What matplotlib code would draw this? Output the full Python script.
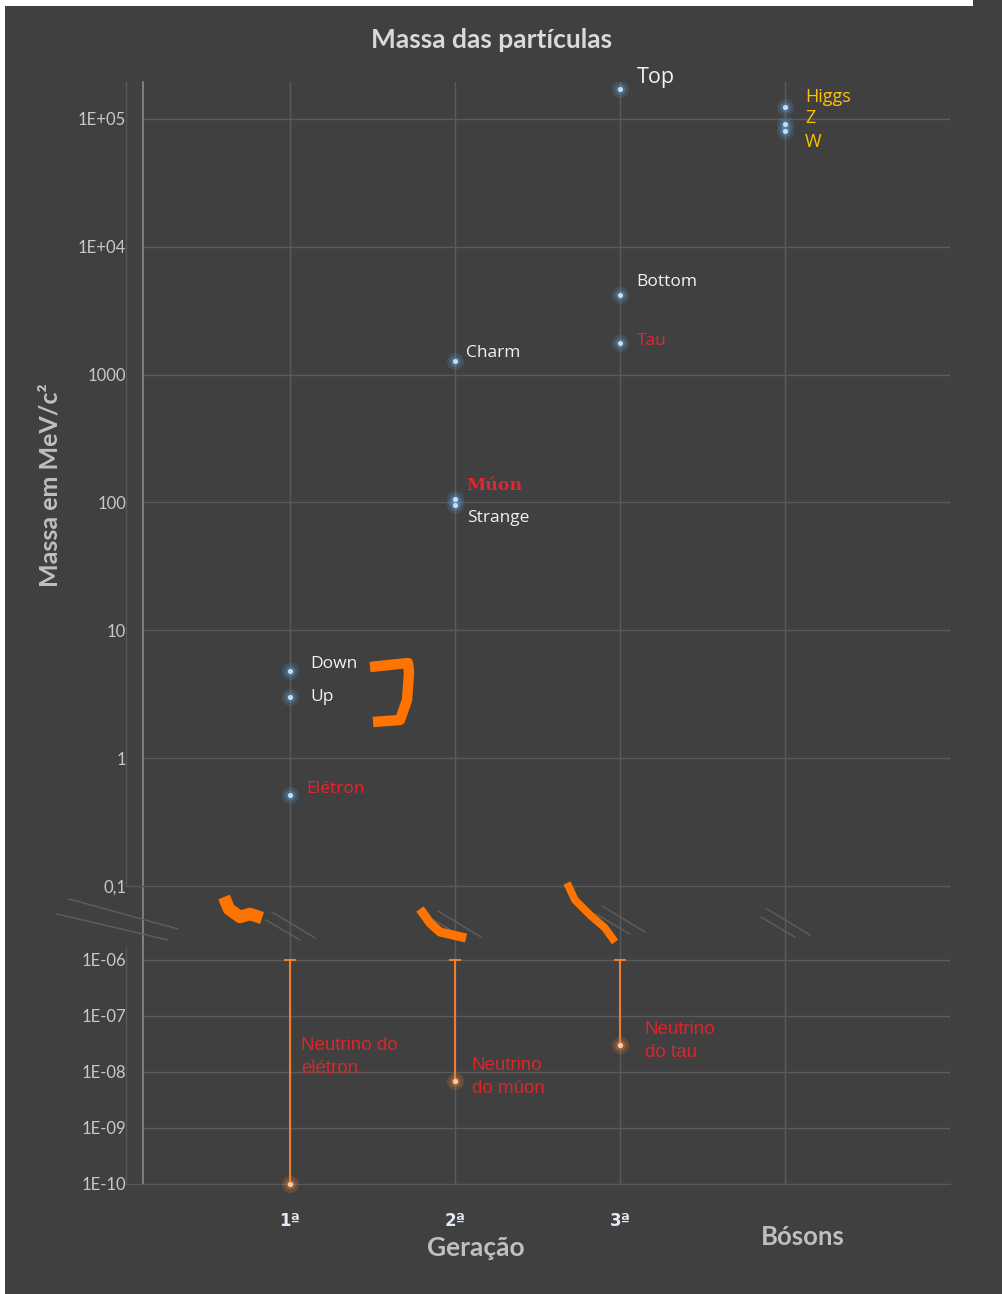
import matplotlib
matplotlib.use("Agg")
import matplotlib.pyplot as plt
from matplotlib.patches import Rectangle
from matplotlib.ticker import FixedLocator, FixedFormatter, NullLocator
import matplotlib.transforms as mtransforms

# ---------------------------------------------------------------------------
# Dados
# ---------------------------------------------------------------------------
categorias = ["1ª", "2ª", "3ª", "Bósons"]
posicoes = [1, 2, 3, 4]

nomes = ["Up", "Down", "Elétron", "Charm", "Strange", "Múon",
         "Top", "Bottom", "Tau", "Higgs", "Z", "W"]
geracao = [1, 1, 1, 2, 2, 2, 3, 3, 3, 4, 4, 4]
massas = [3.0, 4.8, 0.511, 1270, 95, 105.7,
          173000, 4180, 1777, 125000, 91200, 80400]
tipo = ["quark", "quark", "lepton", "quark", "quark", "lepton",
        "quark", "quark", "lepton", "boson", "boson", "boson"]

nomes_nu = ["Neutrino do\nelétron", "Neutrino\ndo múon", "Neutrino\ndo tau"]
geracao_nu = [1, 2, 3]
massas_nu = [1e-10, 7e-9, 3e-8]
limite_nu = [1e-6, 1e-6, 1e-6]

ticks_sup = [1e5, 1e4, 1e3, 1e2, 1e1, 1, 0.1]
rotulos_sup = ["1E+05", "1E+04", "1000", "100", "10", "1", "0,1"]
ticks_inf = [1e-6, 1e-7, 1e-8, 1e-9, 1e-10]
rotulos_inf = ["1E-06", "1E-07", "1E-08", "1E-09", "1E-10"]

# ---------------------------------------------------------------------------
# Estilo
# ---------------------------------------------------------------------------
FUNDO = "#404040"
GRADE = "#5a5a5a"
TXT_EIXO = "#c8c8c8"
CORES = {"quark": "#f2f2f2", "lepton": "#e3262e", "boson": "#ffc000"}
W, H = 1003, 1294

fig = plt.figure(figsize=(W / 100, H / 100), dpi=100)
fig.patch.set_facecolor(FUNDO)


def fx(px):
    return px / W


def fy(py):
    return 1 - py / H


x0, x1 = 143, 950
ax = fig.add_axes([fx(x0), fy(940), fx(x1) - fx(x0), fy(82) - fy(940)])
axb = fig.add_axes([fx(x0), fy(1184), fx(x1) - fx(x0), fy(940) - fy(1184)])

for a in (ax, axb):
    a.set_facecolor(FUNDO)
    a.set_yscale("log")
    a.set_xlim(0.11, 5)
    a.set_xticks([1, 2, 3, 4, 5])
    a.grid(True, color=GRADE, lw=1)
    a.set_axisbelow(True)
    for s in ("top", "right", "bottom"):
        a.spines[s].set_visible(False)
    a.spines["left"].set_color("#8a8a8a")
    a.spines["left"].set_linewidth(1.2)
    a.tick_params(axis="both", length=0, colors=TXT_EIXO, labelsize=12,
                  pad=12)
    a.yaxis.set_minor_locator(NullLocator())

ax.set_ylim(10 ** -1.422, 10 ** 5.289)
ax.yaxis.set_major_locator(FixedLocator(ticks_sup))
ax.yaxis.set_major_formatter(FixedFormatter(rotulos_sup))
ax.set_xticklabels([])

axb.set_ylim(1e-10, 10 ** -5.643)
axb.yaxis.set_major_locator(FixedLocator(ticks_inf))
axb.yaxis.set_major_formatter(FixedFormatter(rotulos_inf))
axb.spines["bottom"].set_visible(True)
axb.spines["bottom"].set_color(GRADE)
axb.set_xticks([1, 2, 3, 4, 5])
axb.set_xticklabels(categorias[:3] + ["", ""], fontsize=12, color="#e2ebf5",
                    fontweight="bold")
axb.tick_params(axis="x", pad=20)

for lab in ax.get_yticklabels() + axb.get_yticklabels():
    lab.set_family("Lato")

# pontos (com brilho)
ax.scatter(geracao, massas, s=150, color="#5b9bd5", alpha=0.18, lw=0, zorder=3)
ax.scatter(geracao, massas, s=55, color="#5b9bd5", alpha=0.35, lw=0, zorder=3)
ax.scatter(geracao, massas, s=14, color="#c5dcf2", lw=0, zorder=4)

# neutrinos: limite superior
axb.vlines(geracao_nu, massas_nu, limite_nu, color="#ed7d31", lw=1.5, zorder=3)
axb.scatter(geracao_nu, limite_nu, marker="_", s=80, color="#ed7d31",
            lw=1.5, zorder=3, clip_on=False)
axb.scatter(geracao_nu, massas_nu, s=150, color="#ed7d31", alpha=0.2, lw=0,
            zorder=4, clip_on=False)
axb.scatter(geracao_nu, massas_nu, s=55, color="#ed7d31", alpha=0.35, lw=0,
            zorder=4, clip_on=False)
axb.scatter(geracao_nu, massas_nu, s=15, color="#f8cbad", lw=0, zorder=5,
            clip_on=False)

# rótulos
desloc = {"Up": (20, 0), "Down": (20, 7), "Elétron": (16, 6),
          "Charm": (11, 8), "Strange": (12, -13), "Múon": (11, 14),
          "Top": (17, 11), "Bottom": (16, 13), "Tau": (17, 2),
          "Higgs": (20, 10), "Z": (20, 6), "W": (20, -11)}
for n, g, m, t in zip(nomes, geracao, massas, tipo):
    kw = dict(family="Open Sans", fontsize=12.5)
    if n == "Múon":
        kw = dict(family="DejaVu Serif", fontsize=12.5, fontweight="bold")
    elif n == "Top":
        kw["fontsize"] = 15.5
    elif t == "boson":
        kw["fontsize"] = 13
    ax.annotate(n, (g, m), xytext=desloc[n], textcoords="offset pixels",
                ha="left", va="center", color=CORES[t], **kw)

desloc_nu = [(11, 127), (17, 4), (25, 4)]
for n, g, m, d in zip(nomes_nu, geracao_nu, massas_nu, desloc_nu):
    axb.annotate(n, (g, m), xytext=d, textcoords="offset pixels",
                 ha="left", va="center", color="#d9262b",
                 family="Liberation Sans", fontsize=13.5, linespacing=1.45)

# títulos
fig.text(fx(492), fy(40), "Massa das partículas", ha="center", va="center",
         fontsize=19, fontweight="bold", color="#d9d9d9", family="Lato")
fig.text(fx(50), fy(485), "Massa em MeV/c²", ha="center", va="center",
         rotation=90, fontsize=18, fontweight="bold", color="#bfbfbf",
         family="Lato")
fig.text(fx(476), fy(1248), "Geração", ha="center", va="center",
         fontsize=19, fontweight="bold", color="#bfbfbf", family="Lato")
trans = mtransforms.blended_transform_factory(axb.transData, fig.transFigure)
axb.text(posicoes[3] + 0.11, fy(1237), categorias[3], transform=trans,
         ha="center", va="center", fontsize=18.5, fontweight="bold",
         color="#bfbfbf", family="Lato")

# ---------------------------------------------------------------------------
# Camada de decoração (pixels da imagem)
# ---------------------------------------------------------------------------
ov = fig.add_axes([0, 0, 1, 1], zorder=10)
ov.set_xlim(0, W)
ov.set_ylim(H, 0)
ov.axis("off")
ov.patch.set_alpha(0)

ov.add_patch(Rectangle((0, 0), 5, H, color="white", lw=0))
ov.add_patch(Rectangle((0, 0), 973, 6, color="white", lw=0))

# linhas finas auxiliares do eixo
ov.plot([126, 126, 143], [82, 886, 886], color="#585858", lw=1)
ov.plot([126, 126, 143], [947, 1184, 1184], color="#585858", lw=1)

# marcas de quebra
quebra = "#5e5e5e"
ov.plot([69, 178], [899, 929], color=quebra, lw=1)
ov.plot([57, 168], [914, 940], color=quebra, lw=1)
for gx, dy in [(290, 0), (456, -1), (620, -6), (785, -3)]:
    dx = gx - 290
    ov.plot([272 + dx, 315 + dx], [912 + dy, 938 + dy], color=quebra, lw=1)
    ov.plot([266 + dx, 300 + dx], [920 + dy, 940 + dy], color=quebra, lw=1)

# traços laranja desenhados à mão
laranja = "#ff7400"
ov.plot([370, 408, 409, 407, 400, 373], [667, 663, 673, 700, 720, 722],
        color=laranja, lw=7.5, solid_capstyle="butt", solid_joinstyle="round")
ov.plot([224, 229, 240, 250, 262], [897, 909, 917, 914, 918],
        color=laranja, lw=9, solid_capstyle="butt", solid_joinstyle="round")
ov.plot([420, 430, 440, 466], [909, 923, 932, 938],
        color=laranja, lw=6.5, solid_capstyle="butt", solid_joinstyle="round")
ov.plot([567, 575, 590, 605, 615], [883, 900, 915, 928, 942],
        color=laranja, lw=5.5, solid_capstyle="butt", solid_joinstyle="round")

fig.savefig("out.png", dpi=100, facecolor=fig.get_facecolor())
